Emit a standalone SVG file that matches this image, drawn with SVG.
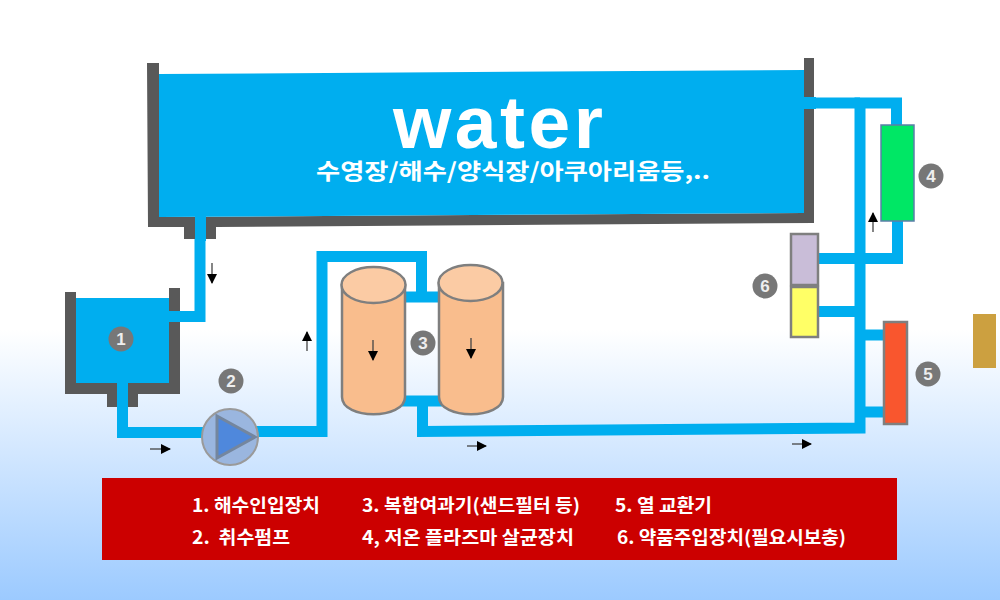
<svg xmlns="http://www.w3.org/2000/svg" width="1000" height="600" viewBox="0 0 1000 600">
<style>
.wall{fill:#595959}
.water{fill:#00aeef}
.pipe{fill:none;stroke:#00aeef;stroke-width:11;stroke-linejoin:miter}
.badge circle{fill:#777}
.badge text{fill:#eee;font:bold 17px "Liberation Sans",Arial,sans-serif;text-anchor:middle}
.unit{stroke:#7f7f7f;stroke-width:2.5}
.cyl{fill:#f9bd8d;stroke:#7f7f7f;stroke-width:2.5}
.cyltop{fill:#fbcba4;stroke:#7f7f7f;stroke-width:2.5}
.flow{stroke:#444;stroke-width:1.3;fill:none;marker-end:url(#ah)}
.legend{fill:#fff;font:bold 18px "Noto Sans CJK KR","Noto Sans",sans-serif}
</style>
<defs>
<linearGradient id="bg" x1="0" y1="0" x2="0" y2="1">
<stop offset="0" stop-color="#fff"/><stop offset="0.55" stop-color="#fff"/><stop offset="1" stop-color="#9ccaff"/>
</linearGradient>
<marker id="ah" markerWidth="11" markerHeight="11" refX="9" refY="5" orient="auto" markerUnits="userSpaceOnUse">
<path d="M0 0L10 5L0 10Z" fill="#000"/>
</marker>
</defs>
<rect width="1000" height="600" fill="url(#bg)"/>
<rect x="973" y="314" width="23" height="54" fill="#cca040"/>
<g id="connectors">
<path class="pipe" d="M200 225V316.500H168"/>
<path class="pipe" d="M122.500 390V432.500H205"/>
<path class="pipe" d="M255 431.500H322V256.500H421.500V297"/>
<path class="pipe" d="M402 297H442"/>
<path class="pipe" d="M402 401H442"/>
<path class="pipe" d="M422.500 401V431.500L860 428V103H896.500V125"/>
<path class="pipe" d="M897.500 221V258.500H818"/>
<path class="pipe" d="M818 311.500H859"/>
<path class="pipe" d="M860 335H884"/>
<path class="pipe" d="M860 412H884"/>
<path class="pipe" d="M800 103H860"/>
</g>
<g id="tank">
<path class="wall" d="M147 63H159V217L804 213V58H814V223L216 227V239H184V227H148Z"/>
<path class="water" d="M159 74L804 70V213L159 217Z"/>
<rect class="water" x="195" y="215" width="11" height="26"/>
<rect class="water" x="800" y="97" width="16" height="12"/>
<text x="498" y="148" text-anchor="middle" fill="#fff" font-family="'Liberation Sans',Arial,sans-serif" font-weight="700" font-size="75" textLength="210" lengthAdjust="spacing">water</text>
<text x="513" y="179" text-anchor="middle" fill="#fff" font-family="'Noto Sans CJK KR','Noto Sans',sans-serif" font-weight="700" font-size="22" textLength="394" lengthAdjust="spacingAndGlyphs">수영장/해수/양식장/아쿠아리움등,..</text>
</g>
<g id="node-1">
<path class="wall" d="M65 292H76V383H169V288H180V394H138V407H107V394H65Z"/>
<rect class="water" x="76" y="298" width="93" height="85"/>
<rect class="water" x="117" y="380" width="11" height="28"/>
<rect class="water" x="165" y="311" width="16" height="11"/>
<g class="badge"><circle cx="121" cy="339" r="12.500"/><text x="121" y="345">1</text></g>
</g>
<g id="node-2">
<circle cx="230" cy="437" r="28" fill="#9ab6df" stroke="#9a9a9a" stroke-width="2"/>
<path d="M217 416L255 437L217 458Z" fill="#4f88dc" stroke="#74869e" stroke-width="3"/>
<g class="badge"><circle cx="231" cy="381" r="12.500"/><text x="231" y="387">2</text></g>
</g>
<g id="node-3">
<path class="cyl" d="M342 285V397C342 420 405 420 405 397V285Z"/>
<ellipse class="cyltop" cx="373.500" cy="285" rx="32" ry="18"/>
<path class="cyl" d="M439 283V397C439 420 503 420 503 397V283Z"/>
<ellipse class="cyltop" cx="470.500" cy="283" rx="32" ry="18"/>
<g class="badge"><circle cx="423" cy="343" r="12.500"/><text x="423" y="349">3</text></g>
</g>
<g id="node-4">
<rect x="881" y="125" width="33" height="96" fill="#00e765" stroke="#5b7fa8" stroke-width="1.500"/>
<g class="badge"><circle cx="931" cy="176" r="12.500"/><text x="931" y="182">4</text></g>
</g>
<g id="node-5">
<rect class="unit" x="884" y="322" width="23" height="102" fill="#f9562e"/>
<g class="badge"><circle cx="928" cy="374" r="12.500"/><text x="928" y="380">5</text></g>
</g>
<g id="node-6">
<rect class="unit" x="791" y="234" width="27" height="51" fill="#c9bdd8"/>
<rect class="unit" x="791" y="287" width="27" height="50" fill="#ffff66"/>
<g class="badge"><circle cx="765" cy="286" r="12.500"/><text x="765" y="292">6</text></g>
</g>
<g id="flow-arrows">
<path class="flow" d="M212 263V283"/>
<path class="flow" d="M307 351V332"/>
<path class="flow" d="M150 449H170"/>
<path class="flow" d="M373 340V360"/>
<path class="flow" d="M471 338V358"/>
<path class="flow" d="M467 446H486"/>
<path class="flow" d="M792 444H811"/>
<path class="flow" d="M873 232V213"/>
</g>
<g id="legend">
<rect x="102" y="478" width="795" height="82" fill="#cc0000"/>
<text class="legend" x="192" y="512" textLength="128" lengthAdjust="spacingAndGlyphs">1. 해수인입장치</text>
<text class="legend" x="362" y="512" textLength="218" lengthAdjust="spacingAndGlyphs">3. 복합여과기(샌드필터 등)</text>
<text class="legend" x="615" y="512" textLength="97" lengthAdjust="spacingAndGlyphs">5. 열 교환기</text>
<text class="legend" x="192" y="544" textLength="98" lengthAdjust="spacingAndGlyphs" xml:space="preserve">2.  취수펌프</text>
<text class="legend" x="362" y="544" textLength="212" lengthAdjust="spacingAndGlyphs">4, 저온 플라즈마 살균장치</text>
<text class="legend" x="617" y="544" textLength="229" lengthAdjust="spacingAndGlyphs">6. 약품주입장치(필요시보충)</text>
</g>
</svg>
